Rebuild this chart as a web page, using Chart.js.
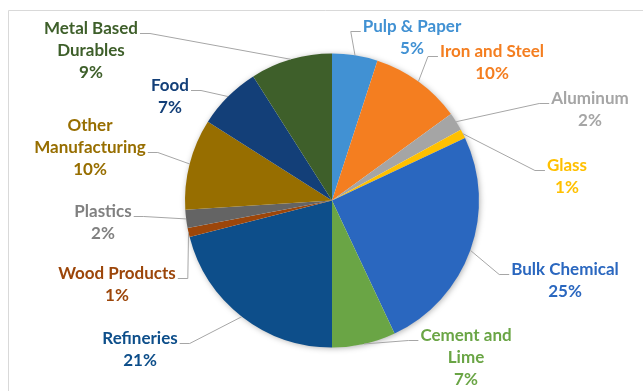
<!DOCTYPE html>
<html>
<head>
<meta charset="utf-8">
<script src="https://cdn.jsdelivr.net/npm/chart.js@4.4.1/dist/chart.umd.min.js"></script>
<style>
  html, body { margin: 0; padding: 0; background: #fff; }
  canvas { display: block; }
</style>
</head>
<body>
<canvas id="energyPie" width="643" height="391"></canvas>
<script>
// Share of energy use by industry (%), clockwise from 12 o'clock
const categories = ["Pulp & Paper", "Iron and Steel", "Aluminum", "Glass", "Bulk Chemical",
  "Cement and Lime", "Refineries", "Wood Products", "Plastics", "Other Manufacturing",
  "Food", "Metal Based Durables"];
const shares = [5, 10, 2, 1, 25, 7, 21, 1, 2, 10, 7, 9];

// how the category names wrap in the labels
const labelLines = [["Pulp & Paper"], ["Iron and Steel"], ["Aluminum"], ["Glass"], ["Bulk Chemical"],
  ["Cement and", "Lime"], ["Refineries"], ["Wood Products"], ["Plastics"], ["Other", "Manufacturing"],
  ["Food"], ["Metal Based", "Durables"]];

const sliceColors = ["#4191D3", "#F47E20", "#A5A5A5", "#FFC000", "#2A67BF", "#6AA545",
  "#0D4E8A", "#9C460A", "#646464", "#976E00", "#133F78", "#3E5F2A"];
const labelColors = ["#4191D3", "#F47E20", "#A5A5A5", "#FFC000", "#2A67BF", "#6AA545",
  "#0D4E8A", "#9C460A", "#808080", "#976E00", "#133F78", "#3E5F2A"];

// label placement relative to pie centre (first line centre), which edge the leader joins, which line
const labelLayout = [
  { dx: 80, dy: -174, edge: "left", line: 0 },
  { dx: 160, dy: -149, edge: "left", line: 0 },
  { dx: 258, dy: -102, edge: "left", line: 0 },
  { dx: 235, dy: -35, edge: "left", line: 0 },
  { dx: 233, dy: 69, edge: "left", line: 0 },
  { dx: 134, dy: 135, edge: "left", line: 0 },
  { dx: -192, dy: 138, edge: "right", line: 0 },
  { dx: -215, dy: 73, edge: "right", line: 0 },
  { dx: -229, dy: 11, edge: "right", line: 0 },
  { dx: -242, dy: -75, edge: "right", line: 1 },
  { dx: -162, dy: -115, edge: "right", line: 0 },
  { dx: -241, dy: -172, edge: "right", line: 0 },
];

const LABEL_FONT = "bold 17px Lato";
const LINE_H = 22;

// light frame on the top and left like the original chart box
const framePlugin = {
  id: "frame",
  beforeDraw(chart) {
    const ctx = chart.ctx;
    ctx.save();
    ctx.strokeStyle = "#D9D9D9";
    ctx.lineWidth = 1;
    ctx.beginPath();
    ctx.moveTo(8.5, chart.height);
    ctx.lineTo(8.5, 10.5);
    ctx.lineTo(chart.width, 10.5);
    ctx.stroke();
    ctx.restore();
  },
};

// soft shadow under the pie
const shadowPlugin = {
  id: "pieShadow",
  beforeDatasetsDraw(chart) {
    const arc = chart.getDatasetMeta(0).data[0];
    if (!arc) return;
    const ctx = chart.ctx;
    ctx.save();
    ctx.shadowColor = "rgba(0,0,0,0.35)";
    ctx.shadowBlur = 6;
    ctx.shadowOffsetX = 1;
    ctx.shadowOffsetY = 1;
    ctx.fillStyle = "#fff";
    ctx.beginPath();
    ctx.arc(arc.x, arc.y, arc.outerRadius - 0.5, 0, Math.PI * 2);
    ctx.fill();
    ctx.restore();
  },
};

// outside labels with leader lines
const outsideLabels = {
  id: "outsideLabels",
  afterDatasetsDraw(chart) {
    const ctx = chart.ctx;
    const arcs = chart.getDatasetMeta(0).data;
    ctx.save();
    ctx.font = LABEL_FONT;
    ctx.textAlign = "center";
    ctx.textBaseline = "middle";
    arcs.forEach((arc, i) => {
      const lay = labelLayout[i];
      const lines = labelLines[i].concat([shares[i] + "%"]);
      const cx = arc.x + lay.dx;
      const y0 = arc.y + lay.dy;

      // leader line: arc edge -> elbow -> short stub at the text
      const mid = (arc.startAngle + arc.endAngle) / 2;
      const px = arc.x + Math.cos(mid) * arc.outerRadius;
      const py = arc.y + Math.sin(mid) * arc.outerRadius;
      const w = ctx.measureText(lines[lay.line]).width;
      const ey = y0 + lay.line * LINE_H + 5;
      const tip = lay.edge === "left" ? cx - w / 2 - 2 : cx + w / 2 + 2;
      const elbow = lay.edge === "left" ? tip - 10 : tip + 10;
      ctx.strokeStyle = "#A6A6A6";
      ctx.lineWidth = 1;
      ctx.beginPath();
      ctx.moveTo(px, py);
      ctx.lineTo(elbow, ey);
      ctx.lineTo(tip, ey);
      ctx.stroke();

      ctx.fillStyle = labelColors[i];
      lines.forEach((t, k) => ctx.fillText(t, cx, y0 + k * LINE_H));
    });
    ctx.restore();
  },
};

new Chart(document.getElementById("energyPie"), {
  type: "pie",
  data: {
    labels: categories,
    datasets: [{
      data: shares,
      backgroundColor: sliceColors,
      borderWidth: 0,
      hoverOffset: 0,
    }],
  },
  options: {
    responsive: false,
    animation: false,
    radius: 147,
    layout: { padding: { left: 185, right: 164, top: 54, bottom: 44 } },
    plugins: {
      legend: { display: false },
      tooltip: { enabled: false },
    },
  },
  plugins: [framePlugin, shadowPlugin, outsideLabels],
});
</script>
</body>
</html>
